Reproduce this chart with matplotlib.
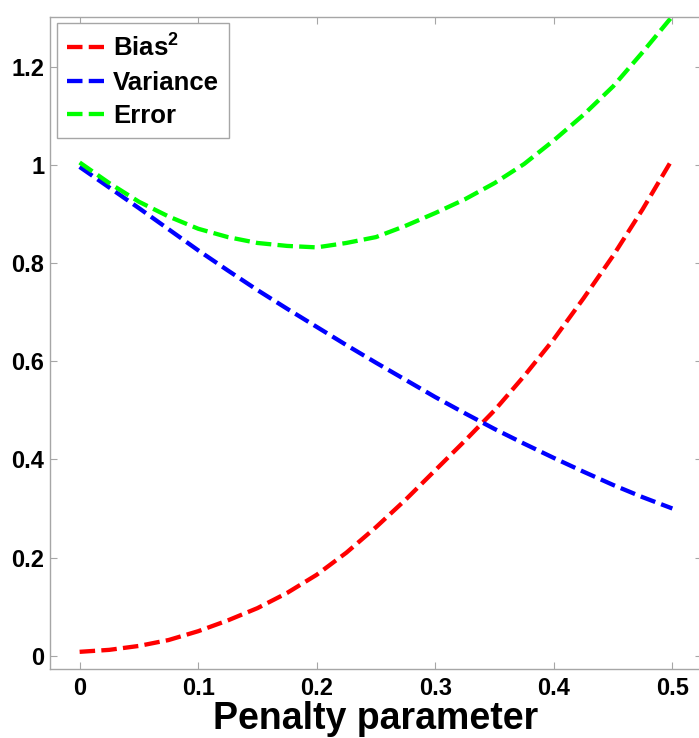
import numpy as np
import matplotlib
matplotlib.use("Agg")
import matplotlib.pyplot as plt

# values
penalty = [0.0, 0.025, 0.05, 0.075, 0.10, 0.125, 0.15, 0.175, 0.20, 0.225, 0.25,
           0.275, 0.30, 0.325, 0.35, 0.375, 0.40, 0.425, 0.45, 0.475, 0.50]
bias2 = [0.008, 0.012, 0.020, 0.032, 0.050, 0.072, 0.097, 0.128, 0.165, 0.210, 0.262,
         0.318, 0.378, 0.438, 0.500, 0.570, 0.645, 0.728, 0.815, 0.910, 1.012]
variance = [0.996, 0.954, 0.912, 0.869, 0.826, 0.785, 0.745, 0.707, 0.670, 0.633, 0.597,
            0.562, 0.527, 0.494, 0.462, 0.432, 0.403, 0.375, 0.348, 0.323, 0.300]
error = [1.005, 0.963, 0.925, 0.895, 0.870, 0.853, 0.841, 0.835, 0.832, 0.841, 0.853,
         0.876, 0.902, 0.930, 0.963, 1.002, 1.050, 1.102, 1.160, 1.230, 1.303]

xticks = [0, 0.1, 0.2, 0.3, 0.4, 0.5]
xlabels = ["0", "0.1", "0.2", "0.3", "0.4", "0.5"]
yticks = [0, 0.2, 0.4, 0.6, 0.8, 1.0, 1.2]
ylabels = ["0", "0.2", "0.4", "0.6", "0.8", "1", "1.2"]

plt.rcParams['font.family'] = ['Liberation Sans', 'DejaVu Sans']
plt.rcParams['font.weight'] = 'bold'
plt.rcParams['mathtext.fontset'] = 'custom'
plt.rcParams['mathtext.rm'] = 'Liberation Sans:bold'
plt.rcParams['mathtext.bf'] = 'Liberation Sans:bold'

W, H = 699, 738
fig = plt.figure(figsize=(W / 100, H / 100), dpi=100)
# axes box in pixels: left 50, right ~702 (cut off), top 16.7, bottom 669
ax = fig.add_axes([50 / W, (H - 669) / H, (702 - 50) / W, (669 - 16.7) / H])

dash = (0, (3.6, 1.45))
lw = 3.1
ax.plot(penalty, bias2, color=(1, 0, 0), lw=lw, linestyle=dash, label='Bias$^{\\mathbf{2}}$')
ax.plot(penalty, variance, color=(0, 0, 1), lw=lw, linestyle=dash, label='Variance')
ax.plot(penalty, error, color=(0, 1, 0), lw=lw, linestyle=dash, label='Error')

ax.set_xlim(-0.025, 0.525)
ax.set_ylim(-0.027, 1.302)
ax.set_xticks(xticks)
ax.set_xticklabels(xlabels)
ax.set_yticks(yticks)
ax.set_yticklabels(ylabels)

gray = '0.65'
for s in ax.spines.values():
    s.set_color(gray)
    s.set_linewidth(1.0)
ax.tick_params(direction='in', length=5, width=0.8, color=gray,
               top=True, right=True, labelsize=17)
ax.tick_params(axis='x', pad=6)
ax.tick_params(axis='y', pad=4)

ax.set_xlabel('Penalty parameter', fontsize=27, fontweight='bold', labelpad=0.5)

leg = ax.legend(loc='upper left', bbox_to_anchor=(0.0107, 0.990), borderaxespad=0,
                fontsize=18.5, frameon=True, fancybox=False, framealpha=1,
                edgecolor=gray, handlelength=1.45, handletextpad=0.36,
                labelspacing=0.38, borderpad=0.38)
leg.get_frame().set_linewidth(1.0)

fig.savefig('out.png', dpi=100)
